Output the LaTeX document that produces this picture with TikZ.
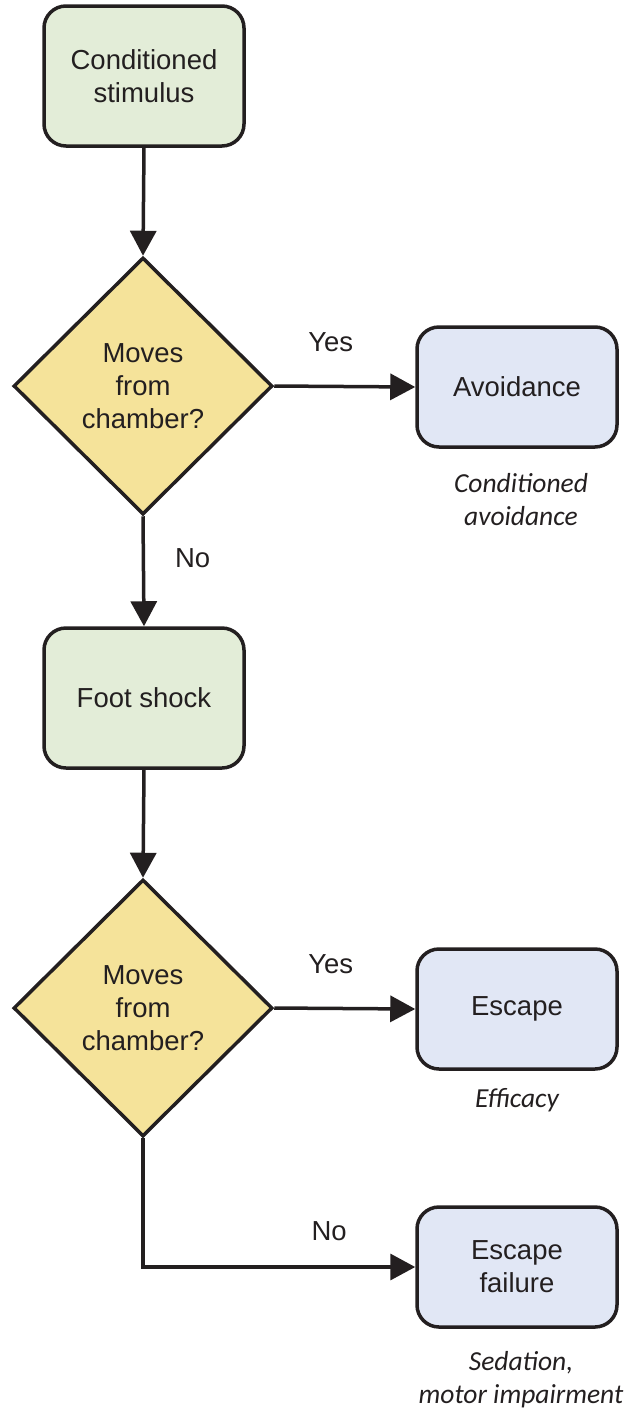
\documentclass[tikz,border=0pt]{standalone}
\usepackage{fontspec}
\setmainfont{Liberation Sans}
\newfontfamily\capfont{Carlito}
\usetikzlibrary{shapes.geometric,arrows.meta}
\definecolor{ink}{HTML}{231F20}
\definecolor{greenfill}{HTML}{E3EDD8}
\definecolor{bluefill}{HTML}{E1E7F5}
\definecolor{yellowfill}{HTML}{F5E39A}
\tikzset{
  base/.style={draw=ink, line width=3.5pt, text=ink, align=center, font=\fontsize{27.5}{33}\selectfont, inner sep=0pt},
  greenbox/.style={base, fill=greenfill, rounded corners=22pt, minimum width=200pt, minimum height=140pt},
  bluebox/.style={base, fill=bluefill, rounded corners=22pt, minimum width=200pt, minimum height=120pt},
  decision/.style={base, fill=yellowfill, diamond, minimum width=259pt, minimum height=257pt},
  conn/.style={draw=ink, line width=3.5pt, -{Triangle[length=25pt,width=26pt]}},
  lbl/.style={text=ink, font=\fontsize{27.5}{33}\selectfont, inner sep=0pt},
  capt/.style={text=ink, align=center, font=\capfont\itshape\fontsize{27.5}{33}\selectfont, inner sep=0pt}
}
\begin{document}
\begin{tikzpicture}[x=1pt,y=-1pt]
\useasboundingbox (0,0) rectangle (629,1414);
\node[greenbox] (cs) at (144,76) {Conditioned\\stimulus};
\node[decision] (d1) at (143,386) {Moves\\from\\chamber?};
\node[bluebox] (av) at (517,387) {Avoidance};
\node[capt] (c1) at (521,500) {Conditioned\\avoidance};
\node[greenbox] (fs) at (144,698) {Foot shock};
\node[decision] (d2) at (143,1008) {Moves\\from\\chamber?};
\node[bluebox] (es) at (517,1009) {Escape};
\node[capt] (c2) at (517,1100) {Efficacy};
\node[bluebox] (ef) at (517,1267) {Escape\\failure};
\node[capt] (c3) at (521,1380) {Sedation,\\motor impairment};

\draw[conn] (cs.south) -- (d1.north);
\draw[conn] (d1.east) -- (av.west) node[lbl, midway, above=33pt, xshift=-14pt] {Yes};
\draw[conn] (d1.south) -- (fs.north) node[lbl, pos=0.38, right=30pt] {No};
\draw[conn] (fs.south) -- (d2.north);
\draw[conn] (d2.east) -- (es.west) node[lbl, midway, above=33pt, xshift=-14pt] {Yes};
\draw[conn] (d2.south) |- (ef.west) node[lbl, pos=0.842, above=24pt] {No};
\end{tikzpicture}
\end{document}
